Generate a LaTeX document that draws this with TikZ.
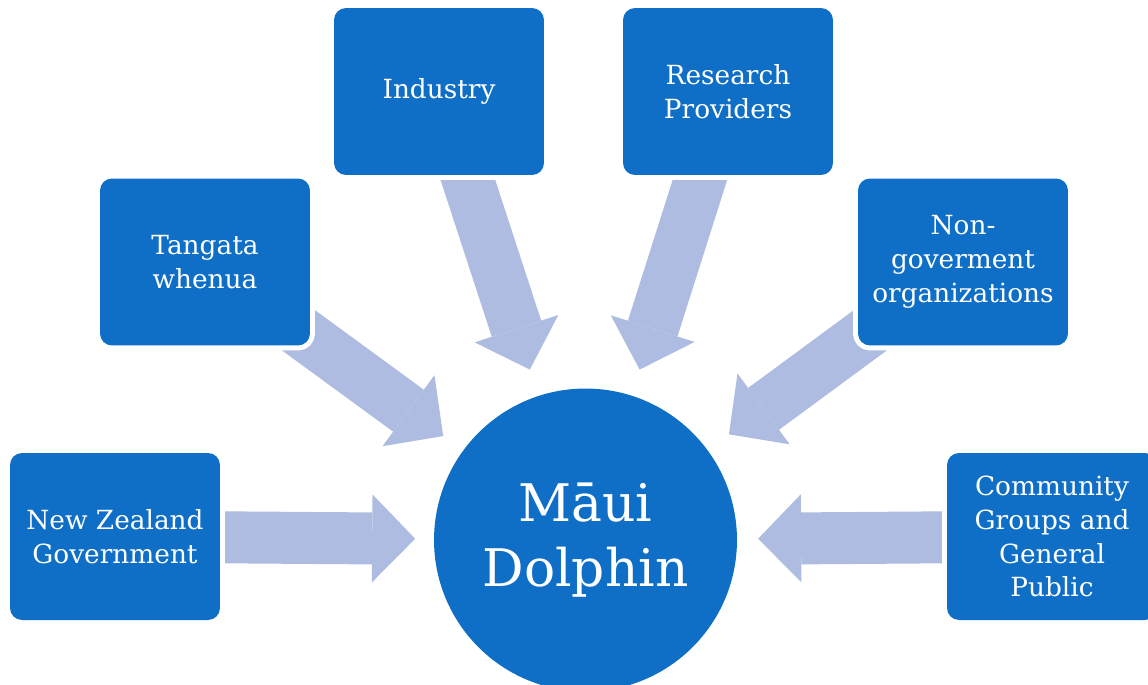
\documentclass[tikz,border=0pt]{standalone}
\usepackage{fontspec}
\setmainfont{DejaVu Serif}
\usetikzlibrary{arrows.meta,calc,backgrounds}
\definecolor{boxblue}{HTML}{0F6FC6}
\definecolor{flowblue}{HTML}{ADBCE0}
\tikzset{
	party/.style={rectangle, rounded corners=0.24cm, fill=boxblue, text=white, align=center,
		minimum width=4.2cm, minimum height=3.34cm, inner sep=0pt,
		preaction={draw=white, line width=0.2cm}, font=\fontsize{15}{19.3}\selectfont},
	hub/.style={circle, fill=boxblue, text=white, align=center, minimum size=6.06cm,
		inner sep=0pt, font=\fontsize{29.5}{37}\selectfont},
	flow/.style={draw=flowblue, line width=1.04cm,
		-{Triangle[width=1.76cm, length=0.86cm, line width=0pt]}}
}

\begin{document}
\begin{tikzpicture}[x=0.02cm, y=-0.02cm]
	\path[use as bounding box, clip] (0,0) rectangle (1148,684);
	\node[hub] (maui) at (585.5,540) {Māui\\Dolphin};
	\node[party] (nz) at (115,536.5) {New Zealand\\Government};
	\node[party] (tw) at (205,262) {Tangata\\whenua};
	\node[party] (ind) at (439,91.5) {Industry};
	\node[party] (res) at (728,91.5) {Research\\Providers};
	\node[party] (ngo) at (963,262) {Non-\\goverment\\organizations};
	\node[party] (cg) at (1052,536.5) {Community\\Groups and\\General\\Public};
	\begin{scope}[on background layer]
		\draw[flow] ($(nz)!0.2!(maui)$) -- ($(nz)!0.638!(maui)$);
		\draw[flow] ($(tw)!0.15!(maui)$) -- ($(tw)!0.626!(maui)$);
		\draw[flow] ($(ind)!0.15!(maui)$) -- ($(ind)!0.62!(maui)$);
		\draw[flow] ($(res)!0.15!(maui)$) -- ($(res)!0.62!(maui)$);
		\draw[flow] ($(ngo)!0.15!(maui)$) -- ($(ngo)!0.62!(maui)$);
		\draw[flow] ($(cg)!0.2!(maui)$) -- ($(cg)!0.63!(maui)$);
	\end{scope}
\end{tikzpicture}
\end{document}
